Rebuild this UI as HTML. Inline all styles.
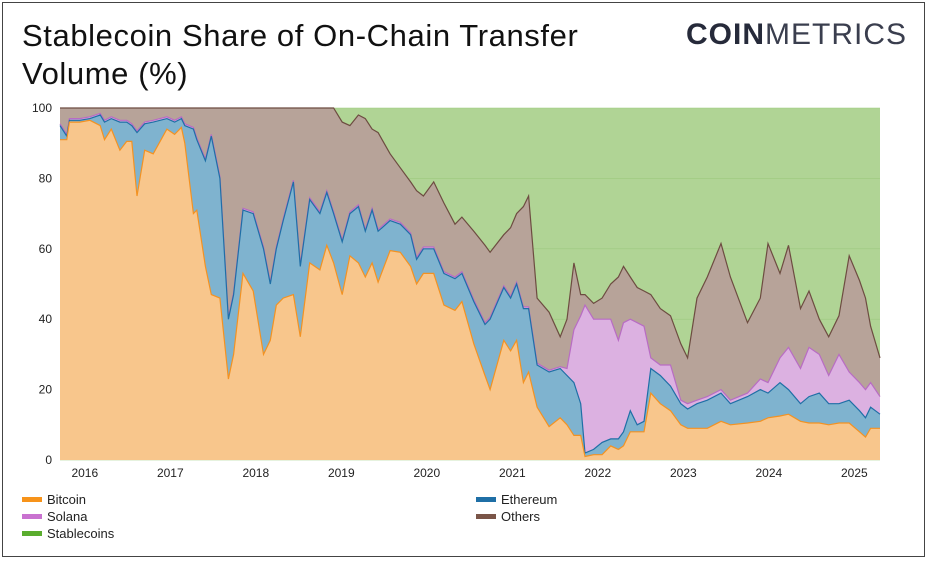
<!DOCTYPE html>
<html><head><meta charset="utf-8"><style>
body{margin:0;width:931px;height:563px;background:#fff;overflow:hidden;font-family:"Liberation Sans",sans-serif}
#frame{position:absolute;left:2px;top:2px;width:923px;height:555px;border:1.5px solid #444;box-sizing:border-box}
#title{position:absolute;left:22px;top:17px;font-size:31px;line-height:38px;color:#111;letter-spacing:0.6px}
#logo{position:absolute;left:686px;top:18px;font-size:30px;color:#262a3a;letter-spacing:1px}
#logo b{font-weight:900}#logo span{font-weight:300;color:#3a3e4e}
.leg{position:absolute;font-size:13px;color:#222;display:flex;align-items:center}
.sw{width:20px;height:5px;margin-right:5px}
</style></head><body>
<div id="frame"></div>
<div id="title">Stablecoin Share of On-Chain Transfer<br>Volume (%)</div>
<div id="logo"><b>COIN</b><span>METRICS</span></div>
<svg id="chart" width="931" height="563" style="position:absolute;left:0;top:0"></svg>
<div class="leg" style="left:22px;top:492px"><div class="sw" style="background:#f7931a"></div>Bitcoin</div>
<div class="leg" style="left:22px;top:509px"><div class="sw" style="background:#c972d0"></div>Solana</div>
<div class="leg" style="left:22px;top:526px"><div class="sw" style="background:#5aad2e"></div>Stablecoins</div>
<div class="leg" style="left:476px;top:492px"><div class="sw" style="background:#1f6fa6"></div>Ethereum</div>
<div class="leg" style="left:476px;top:509px"><div class="sw" style="background:#7a5548"></div>Others</div>
<script>
const dates=[2015.71,2015.79,2015.82,2015.94,2016.06,2016.18,2016.23,2016.31,2016.41,2016.49,2016.55,2016.61,2016.70,2016.80,2016.96,2017.05,2017.13,2017.17,2017.27,2017.31,2017.41,2017.48,2017.58,2017.68,2017.74,2017.85,2017.97,2018.09,2018.17,2018.24,2018.32,2018.44,2018.52,2018.63,2018.75,2018.83,2018.91,2019.01,2019.10,2019.20,2019.28,2019.36,2019.43,2019.57,2019.69,2019.81,2019.88,2019.96,2020.08,2020.20,2020.33,2020.41,2020.55,2020.68,2020.74,2020.90,2020.98,2021.05,2021.13,2021.19,2021.29,2021.43,2021.56,2021.64,2021.72,2021.80,2021.85,2021.95,2022.05,2022.15,2022.24,2022.30,2022.38,2022.46,2022.54,2022.62,2022.73,2022.85,2022.97,2023.05,2023.16,2023.28,2023.44,2023.55,2023.75,2023.90,2023.99,2024.13,2024.23,2024.37,2024.47,2024.59,2024.70,2024.82,2024.94,2025.06,2025.13,2025.19,2025.30];
const bitcoin=[91,91,96,96,96.5,95,91,94,88,90.5,90.5,75,88,87,94,92.5,94.5,90,70,71,55,47,46,23,30,53,48,30,34,44,46,47,35,56,54,61,56,47,58,56,52,56,50.5,59.5,59,55,50,53,53,44,42.5,45,33,24,20,34,31,34,22,25,15,9.5,12,10,7,7,1,1.5,1.5,4,3,4,8,8,8,19,16,14,10,9,9,9,11,10,10.5,11,12,12.5,13,11,10.5,10.5,10,10.5,10.5,8,6.5,9,9];
const ethereum=[4,1,0.5,0.5,0.5,3,5,3,8,5.5,4.5,18,7.5,9,3,3.5,2.5,5,24,20,30,45,34,17,17,18,22,30,16,16,22,32,20,18,16,15,14,15,12,16,13,15,14.5,8.5,8,9,7,7,7,9,9,8,12,14.5,20,15,15,16,21,18,12,15.5,14,14,15,9,1,1.5,3.5,2,3,4,6,2,3,7,8,7,6,5.5,7,8,8,6,7.5,9,7,9.5,7,5,7.5,8.5,6,5.5,6.5,6,5.5,6,4];
const solana=[0.5,0.5,0.5,0.5,0.5,0.5,0.5,0.5,0.5,0.5,0.5,0.5,0.5,0.5,0.5,0.5,0.5,0.5,0.5,0.5,0.5,0.5,0.5,0.5,0.5,0.5,0.5,0.5,0.5,0.5,0.5,0.5,0.5,0.5,0.5,0.5,0.5,0.5,0.5,0.5,0.5,0.5,0.5,0.5,0.5,0.5,0.5,0.5,0.5,0.5,0.5,0.5,0.5,0.5,0.5,0.5,0.5,0.5,0.5,0.5,0.5,0.5,0.5,2,15,25,42,37,35,34,28,31,26,29,27,3,3,6,1,1.5,1,1,1,1,1,3,3,7,12,10,14,11,8,14,8,8,8,7,5];
const others=[4.5,7.5,3,3,2.5,1.5,3.5,2.5,3.5,3.5,4.5,6.5,4,3.5,2.5,3.5,2.5,4.5,5.5,8.5,14.5,7.5,19.5,59.5,52.5,28.5,29.5,39.5,49.5,39.5,31.5,20.5,44.5,25.5,29.5,23.5,29.5,33.5,24.5,25.5,31.5,22.5,27.5,18.5,15.5,14.5,19,14.5,18.5,19.5,15,15.5,19.5,22,18.5,14.5,19.5,19.5,28.5,31.5,18.5,16.5,8.5,14,19,6,3,4.5,6,10,18,16,12,10,10,18,16,14,16,13,29,34,41.5,35,20,23,39.5,24,29,17,16,10,11,11,33,29,26,16,11];
const yTicks=[0,20,40,60,80,100];
const xTicks=[2016,2017,2018,2019,2020,2021,2022,2023,2024,2025];
const NS="http://www.w3.org/2000/svg",svg=document.getElementById('chart');
const X0=60,X1=880,Y0=460,Y1=108,D0=2015.71,D1=2025.30;
const xs=d=>X0+(d-D0)/(D1-D0)*(X1-X0);
const ys=v=>Y0-v/100*(Y0-Y1);
function mk(t,a){const e=document.createElementNS(NS,t);for(const k in a)e.setAttribute(k,a[k]);svg.appendChild(e);return e;}
const bg=mk('rect',{x:X0,y:Y1,width:X1-X0,height:Y0-Y1,fill:'#b0d495'});


yTicks.forEach(v=>{
 const l=mk('line',{x1:X0,x2:X1,y1:ys(v),y2:ys(v),stroke:'#9cc97e','stroke-width':0.6});
 
 
 const t=mk('text',{x:52,y:ys(v)+4,'text-anchor':'end','font-size':12,fill:'#222'});
 t.textContent=v;
 
 
});
xTicks.forEach(v=>{
 const t=mk('text',{x:xs(v),y:477,'text-anchor':'middle','font-size':12,fill:'#222'});
 t.textContent=v;
 
 
});
const series=[['others',others,'#b7a399','#6d4c41'],['solana',solana,'#dcb1e1','#b86cc4'],['ethereum',ethereum,'#7fb3cf','#1f6fa6'],['bitcoin',bitcoin,'#f8c68c','#f39222']];
const order=[bitcoin,ethereum,solana,others];
function cum(k,i){let s=0;for(let j=0;j<=k;j++)s+=order[j][i];return s;}
series.forEach(([name,arr,fill,stroke])=>{
 const k=order.indexOf(arr);
 let top=dates.map((d,i)=>xs(d).toFixed(1)+','+ys(Math.min(100,cum(k,i))).toFixed(1));
 const a=mk('path',{d:'M'+xs(dates[0])+','+Y0+' L'+top.join(' L')+' L'+xs(dates[dates.length-1])+','+Y0+'Z',fill:fill});
 
 
 const l=mk('path',{d:'M'+top.join(' L'),fill:'none',stroke:stroke,'stroke-width':1.2});
 
 
});
</script>
</body></html>
